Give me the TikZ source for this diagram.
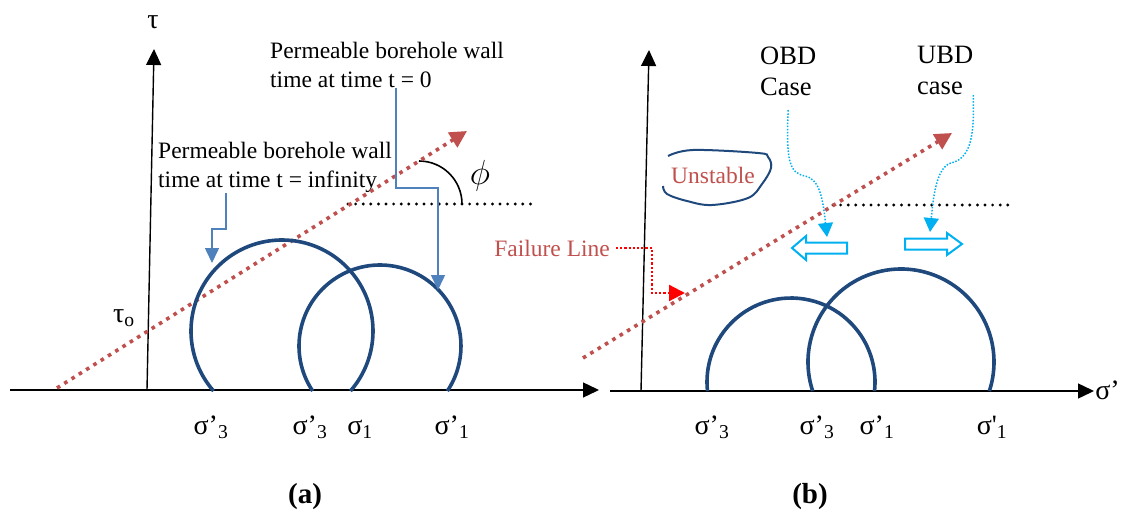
\documentclass[tikz,border=0pt]{standalone}
\usepackage{fix-cm}
\usepackage{fontspec}
\setmainfont{Liberation Serif}
\usepackage{tikz}
\usetikzlibrary{arrows.meta}
\definecolor{mohrblue}{HTML}{1F497D}
\definecolor{connblue}{HTML}{4F81BD}
\definecolor{failred}{HTML}{C0504D}
\definecolor{casecyan}{HTML}{00B0F0}

\begin{document}
\begin{tikzpicture}[x=1pt, y=-1pt,
    lbl/.style={font=\fontsize{23.5}{29}\selectfont, inner sep=0pt},
    caselbl/.style={font=\fontsize{26.5}{31}\selectfont, inner sep=0pt, align=left},
    sig/.style={font=\fontsize{28}{30}\selectfont, inner sep=0pt, anchor=base},
    ax/.style={line width=1.4pt, -{Triangle[length=16pt, width=15pt]}},
    mohr/.style={line width=3.6pt, color=mohrblue},
    fail/.style={line width=3.6pt, color=failred, dash pattern=on 3.6pt off 5pt,
                 -{Triangle[length=17pt, width=17pt]}},
    flat/.style={line width=3.2pt, line cap=round, dash pattern=on 0pt off 7.6pt},
    be/.style={line width=1.6pt, color=connblue, -{Triangle[length=15pt, width=14pt]}},
    re/.style={line width=2.2pt, color=red, dash pattern=on 2.2pt off 2pt,
               -{Triangle[length=16pt, width=16pt]}},
    ce/.style={line width=1.5pt, color=casecyan, dash pattern=on 1.5pt off 1.6pt,
               -{Triangle[length=14pt, width=15pt]}},
    hollow/.style={line width=2pt, draw=casecyan, line join=miter}
]
\useasboundingbox (0,0) rectangle (1121,513);
\clip (0,0) rectangle (1121,513);

% (a) axes and labels
\draw[ax] (10,390) -- (599,390);
\draw[ax] (147,390) -- (154,49);
\node[sig, anchor=center] (tau) at (153,22) {τ};
\node[sig, anchor=center] (tauo) at (124,318) {τ\textsubscript{o}};
\node[lbl, anchor=north west, align=left] (t0lbl) at (270,42) {Permeable borehole wall\\time at time t = 0};
\node[lbl, anchor=north west, align=left] (tinflbl) at (158,142) {Permeable borehole wall\\time at time t = infinity};
\node[font=\fontsize{24}{28}\selectfont, inner sep=0pt] (phi) at (480,176) {\scalebox{1.45}{$\phi$}};

\draw[flat] (348,204) -- (535,204);
\draw[line width=1.6pt] (419,161) arc[start angle=-90, end angle=0, radius=43];
\draw[fail] (57,388) -- (467,131);

\draw[mohr] (282,331) ++(138.75:91) arc[start angle=138.75, end angle=401.25, radius=91];
\draw[mohr] (380,346) ++(146.25:81) arc[start angle=146.25, end angle=393.75, radius=81];

\coordinate (t0bend) at (396,188);
\coordinate (t0tip) at (438,290);
\coordinate (tinfbend) at (226,229);
\coordinate (tinftip) at (212,263);
\draw[be] (t0lbl.south -| t0bend) -- (t0bend) -| (t0tip);
\draw[be] (tinflbl.south -| tinfbend) -- (tinfbend) -| (tinftip);

\node[sig] (s3a) at (211,434) {σ’\textsubscript{3}};
\node[sig] (s3b) at (310,434) {σ’\textsubscript{3}};
\node[sig] (s1a) at (360,434) {σ\textsubscript{1}};
\node[sig] (s1b) at (452,434) {σ’\textsubscript{1}};
\node[font=\bfseries\fontsize{29}{30}\selectfont] (capa) at (305,497) {(a)};

% (b) axes and labels
\draw[ax] (610,391) -- (1094,391);
\draw[ax] (641,391) -- (649,50);
\node[sig, anchor=base east] (sigax) at (1120,399) {σ’};

\node[lbl, text=failred] (unst) at (713,175) {Unstable};
\draw[line width=2pt, color=mohrblue] plot[smooth, tension=0.6] coordinates {(663,186) (667,194) (687,201) (712,205) (748,198) (762,184) (771,168) (768,157) (758,153) (693,150) (668,156)};

\node[lbl, text=failred, anchor=east] (faillbl) at (610,248) {Failure Line};
\coordinate (failbend) at (652,293);
\coordinate (failtip) at (685,293);
\draw[re] ([xshift=6pt]faillbl.east) -| (failbend) -- (failtip);

\node[caselbl, anchor=north west] (obdlbl) at (760,47) {OBD\\Case};
\node[caselbl, anchor=north west] (ubdlbl) at (917,46) {UBD\\case};

\draw[flat] (833,205) -- (1014,205);
\draw[fail] (583,358) -- (952,133);

\coordinate (obdtip) at (827,237);
\coordinate (ubdtip) at (930,232);
\draw[ce] ([yshift=-14pt]obdlbl.south) .. controls (786,160) and (789,173) .. (805,176)
    .. controls (820,179) and (823,200) .. (obdtip);
\draw[ce] (ubdlbl.south east) .. controls (974,130) and (973,158) .. (951,163)
    .. controls (936,167) and (933,200) .. (ubdtip);

\draw[hollow] (792,248) -- (806,236) -- (806,242.5) -- (847,242.5) -- (847,253.5)
    -- (806,253.5) -- (806,260) -- cycle;
\draw[hollow] (962,244) -- (947,233) -- (947,238.5) -- (905,238.5) -- (905,249.5)
    -- (947,249.5) -- (947,255) -- cycle;

\draw[mohr] (791,382) ++(173.85:84) arc[start angle=173.85, end angle=366.15, radius=84];
\draw[mohr] (901,362) ++(161.83:93) arc[start angle=161.83, end angle=378.17, radius=93];

\node[sig] (s3c) at (712,434) {σ’\textsubscript{3}};
\node[sig] (s3d) at (817,434) {σ’\textsubscript{3}};
\node[sig] (s1c) at (877,434) {σ’\textsubscript{1}};
\node[sig] (s1d) at (992,434) {σ\textquotesingle\textsubscript{1}};
\node[font=\bfseries\fontsize{29}{30}\selectfont] (capb) at (810,497) {(b)};
\end{tikzpicture}
\end{document}
